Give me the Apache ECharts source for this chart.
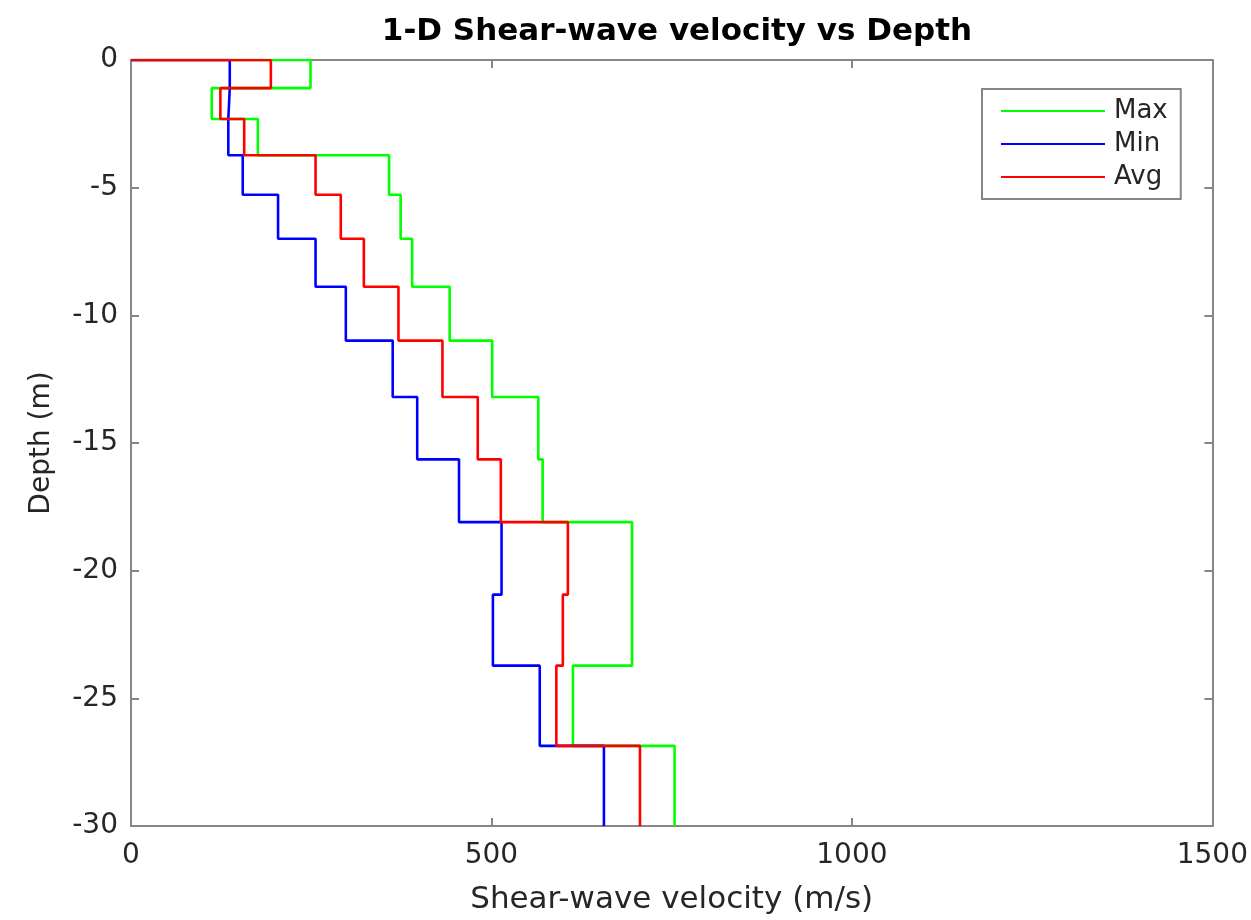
<!DOCTYPE html>
<html>
<head>
<meta charset="utf-8">
<title>1-D Shear-wave velocity vs Depth</title>
<script src="https://cdn.jsdelivr.net/npm/echarts@6/dist/echarts.min.js"></script>
<style>
    html, body { margin: 0; padding: 0; background: #fff; }
    #chart { width: 1251px; height: 920px; }
</style>
</head>
<body>
<div id="chart"></div>
<script type="text/javascript">
    // layer bottoms (m), velocities per layer (m/s)
    var layerBottoms = [1.10, 2.31, 3.73, 5.28, 7.00, 8.88, 10.99, 13.20, 15.64, 18.10, 20.94, 23.72, 26.86, 30];
    var maxVel = [249, 112, 176, 358, 374, 390, 442, 501, 565, 571, 695, 695, 613, 754];
    var minVel = [137, 135, 135, 155, 204, 256, 298, 363, 397, 455, 514, 502, 567, 656];
    var avgVel = [194, 124, 157, 256, 291, 323, 371, 432, 481, 513, 606, 599, 590, 706];
    var seriesNames = ['Max', 'Min', 'Avg'];
    var seriesColors = ['#00ff00', '#0000ff', '#ff0000'];

    // turn layer table into step profile points [velocity, -depth]
    function stepProfile(vel) {
        var pts = [[0, 0]];
        var top = 0;
        for (var i = 0; i < vel.length; i++) {
            pts.push([vel[i], -top]);
            pts.push([vel[i], -layerBottoms[i]]);
            top = layerBottoms[i];
        }
        return pts;
    }

    var font = '"DejaVu Sans", Arial, Helvetica, sans-serif';
    var axisGray = '#868686';
    var labelColor = '#262626';

    var profiles = [maxVel, minVel, avgVel];
    var series = [];
    for (var k = 0; k < profiles.length; k++) {
        series.push({
            name: seriesNames[k],
            type: 'line',
            data: stepProfile(profiles[k]),
            showSymbol: false,
            symbol: 'none',
            color: seriesColors[k],
            lineStyle: { width: 2.6, color: seriesColors[k] },
            xAxisIndex: 0,
            yAxisIndex: 0
        });
    }

    var myChart = echarts.init(document.getElementById('chart'));
    var option = {
        animation: false,
        backgroundColor: '#fff',
        title: {
            text: '1-D Shear-wave velocity vs Depth',
            left: 672,
            textAlign: 'center',
            top: 11,
            textStyle: { fontFamily: font, fontSize: 31, fontWeight: 'bold', color: '#000' }
        },
        legend: {
            data: seriesNames,
            orient: 'vertical',
            left: 982,
            top: 89,
            icon: 'rect',
            itemWidth: 104,
            itemHeight: 2,
            itemGap: 7,
            padding: [9, 13, 9, 19],
            borderColor: axisGray,
            borderWidth: 2,
            backgroundColor: '#fff',
            textStyle: { fontFamily: font, fontSize: 26, color: labelColor, lineHeight: 26, padding: [0, 0, 0, 4] }
        },
        grid: { left: 131, right: 38, top: 60, bottom: 91 },
        xAxis: [{
            type: 'value',
            min: 0, max: 1500, interval: 500,
            name: 'Shear-wave velocity (m/s)',
            nameLocation: 'middle',
            nameGap: 58,
            nameTextStyle: { fontFamily: font, fontSize: 31, color: labelColor },
            axisLine: { show: true, onZero: false, lineStyle: { color: axisGray, width: 2 } },
            axisTick: { show: true, inside: true, length: 8, lineStyle: { color: axisGray, width: 2 } },
            axisLabel: {
                fontFamily: font, fontSize: 28, color: labelColor, margin: 16,
                formatter: function (v) { return String(v); }
            },
            splitLine: { show: false }
        }, {
            type: 'value',
            position: 'top',
            min: 0, max: 1500, interval: 500,
            axisLine: { show: true, onZero: false, lineStyle: { color: axisGray, width: 2 } },
            axisTick: { show: true, inside: true, length: 8, lineStyle: { color: axisGray, width: 2 } },
            axisLabel: { show: false },
            splitLine: { show: false }
        }],
        yAxis: [{
            type: 'value',
            min: -30, max: 0, interval: 5,
            name: 'Depth (m)',
            nameLocation: 'middle',
            nameGap: 75,
            nameTextStyle: { fontFamily: font, fontSize: 28, color: labelColor },
            axisLine: { show: true, onZero: false, lineStyle: { color: axisGray, width: 2 } },
            axisTick: { show: true, inside: true, length: 8, lineStyle: { color: axisGray, width: 2 } },
            axisLabel: {
                fontFamily: font, fontSize: 28, color: labelColor, margin: 13,
                formatter: function (v) { return String(v); }
            },
            splitLine: { show: false }
        }, {
            type: 'value',
            position: 'right',
            min: -30, max: 0, interval: 5,
            axisLine: { show: true, onZero: false, lineStyle: { color: axisGray, width: 2 } },
            axisTick: { show: true, inside: true, length: 8, lineStyle: { color: axisGray, width: 2 } },
            axisLabel: { show: false },
            splitLine: { show: false }
        }],
        series: series
    };
    myChart.setOption(option, true);
</script>
</body>
</html>
